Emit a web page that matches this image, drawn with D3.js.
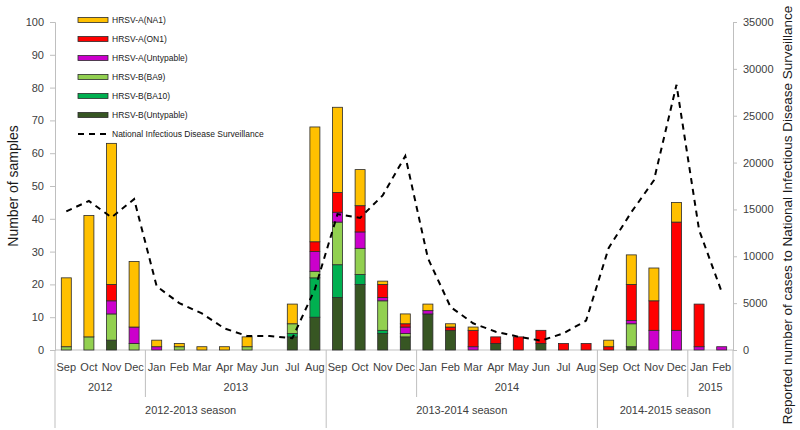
<!DOCTYPE html>
<html>
<head>
<meta charset="utf-8">
<script src="https://cdn.jsdelivr.net/npm/d3@7/dist/d3.min.js"></script>
<style>
body { margin: 0; background: #fff; }
svg { display: block; }
</style>
</head>
<body>
<svg id="chart" width="800" height="430"></svg>
<script>
const months = ["Sep","Oct","Nov","Dec","Jan","Feb","Mar","Apr","May","Jun","Jul","Aug",
                "Sep","Oct","Nov","Dec","Jan","Feb","Mar","Apr","May","Jun","Jul","Aug",
                "Sep","Oct","Nov","Dec","Jan","Feb"];
// year group labels: [label, start index, end index (exclusive)]
const yearGroups = [["2012",0,4],["2013",4,12],["",12,16],["2014",16,24],["",24,28],["2015",28,30]];
const seasonGroups = [["2012-2013 season",0,12],["2013-2014 season",12,24],["2014-2015 season",24,30]];

const seriesNames = ["HRSV-B(Untypable)","HRSV-B(BA10)","HRSV-B(BA9)","HRSV-A(Untypable)","HRSV-A(ON1)","HRSV-A(NA1)"];
const bUntypable = [0,0,3,0, 0,0,0,0,0,0,4,10, 16,20,5,4, 11,6,0,2,0,2,0,0, 0,1,0,0, 0,0];
const bBA10      = [0,0,0,0, 0,0,0,0,0,0,1,12, 10,3,1,0, 0,0,0,0,0,0,0,0, 0,0,0,0, 0,0];
const bBA9       = [1,4,8,2, 0,1,0,0,1,0,3,2, 13,8,9,1, 0,0,0,0,0,0,0,0, 0,7,0,0, 0,0];
const aUntypable = [0,0,4,5, 1,0,0,0,0,0,0,6, 3,5,1,2, 1,0,1,0,0,0,0,0, 0,1,6,6, 1,1];
const aON1       = [0,0,5,0, 0,0,0,0,0,0,0,3, 6,8,4,1, 0,1,5,2,4,4,2,2, 1,11,9,33, 13,0];
const aNA1       = [21,37,43,20, 2,1,1,1,3,0,6,35, 26,11,1,3, 2,1,1,0,0,0,0,0, 2,9,10,6, 0,0];
const surveillance = [14800,15900,14150,16100, 6800,5000,3900,2300,1500,1500,1250,6500,
                      14500,14100,16500,20700, 9800,4600,2850,1950,1420,1000,1780,3130,
                      10900,14700,18100,28300, 12800,6200];
const leftTicks = [0,10,20,30,40,50,60,70,80,90,100];
const rightTicks = [0,5000,10000,15000,20000,25000,30000,35000];

const colors = {
  "HRSV-A(NA1)": "#FFC000",
  "HRSV-A(ON1)": "#FF0000",
  "HRSV-A(Untypable)": "#CC00CC",
  "HRSV-B(BA9)": "#92D050",
  "HRSV-B(BA10)": "#00B050",
  "HRSV-B(Untypable)": "#375623"
};
const seriesData = [bUntypable,bBA10,bBA9,aUntypable,aON1,aNA1];

const svg = d3.select("#chart");
const pL = 55, pR = 733, pT = 22, pB = 350;
const idx = d3.range(months.length);
const x = d3.scaleBand().domain(idx).range([pL, pR]).paddingInner(0).paddingOuter(0);
const y = d3.scaleLinear().domain([0,100]).range([pB, pT]);
const y2 = d3.scaleLinear().domain([0,35000]).range([pB, pT]);
const axisColor = "#BFBFBF";
const labelColor = "#404040";
const tickFont = "'Liberation Sans', Arial, sans-serif";

// rows for stack
const rows = idx.map(i => {
  const r = {i};
  seriesNames.forEach((n,k) => r[n] = seriesData[k][i]);
  return r;
});
const stack = d3.stack().keys(seriesNames)(rows);

// Left axis
const yAxis = d3.axisLeft(y).tickValues(leftTicks).tickSize(5).tickPadding(6);
const gy = svg.append("g").attr("transform", `translate(${pL},0)`).call(yAxis);
gy.select(".domain").attr("stroke", axisColor);
gy.selectAll(".tick line").attr("stroke", axisColor);
gy.selectAll("text").attr("fill", labelColor).style("font", `11px ${tickFont}`);

// Right axis
const yAxis2 = d3.axisRight(y2).tickValues(rightTicks).tickSize(4).tickPadding(6).tickFormat(d3.format("d"));
const gy2 = svg.append("g").attr("transform", `translate(${pR},0)`).call(yAxis2);
gy2.select(".domain").attr("stroke", axisColor);
gy2.selectAll(".tick line").attr("stroke", axisColor);
gy2.selectAll("text").attr("fill", labelColor).style("font", `11px ${tickFont}`);

// Bottom baseline
svg.append("line").attr("x1", pL).attr("x2", pR).attr("y1", pB).attr("y2", pB)
  .attr("stroke", axisColor);

// Bars
const barW = 10;
svg.append("g").selectAll("g").data(stack).join("g")
  .attr("fill", d => colors[d.key])
  .selectAll("rect").data(d => d.filter(s => s[1] - s[0] > 0)).join("rect")
  .attr("x", d => x(d.data.i) + x.bandwidth()/2 - barW/2)
  .attr("width", barW)
  .attr("y", d => y(d[1]))
  .attr("height", d => y(d[0]) - y(d[1]))
  .attr("stroke", "#2b2b2b")
  .attr("stroke-width", 0.8);

// Surveillance line
const line = d3.line().x((d,i) => x(i) + x.bandwidth()/2).y(d => y2(d));
svg.append("path").datum(surveillance).attr("d", line)
  .attr("fill", "none").attr("stroke", "#000").attr("stroke-width", 2)
  .attr("stroke-dasharray", "6,5");

// Category labels
const gx = svg.append("g").style("font", `11px ${tickFont}`).attr("fill", labelColor);
gx.selectAll("text.m").data(idx).join("text").attr("class","m")
  .attr("x", i => x(i) + x.bandwidth()/2).attr("y", 371)
  .attr("text-anchor","middle").text(i => months[i]);

const bx = i => (i >= months.length ? pR : x(i));
gx.selectAll("text.yr").data(yearGroups).join("text").attr("class","yr")
  .attr("x", d => (bx(d[1]) + bx(d[2]))/2).attr("y", 391)
  .attr("text-anchor","middle").text(d => d[0]);
gx.selectAll("text.se").data(seasonGroups).join("text").attr("class","se")
  .attr("x", d => (bx(d[1]) + bx(d[2]))/2).attr("y", 414)
  .attr("text-anchor","middle").text(d => d[0]);

// Separators
const seasonBounds = [0].concat(seasonGroups.map(d => d[2]));
svg.append("g").selectAll("line").data(seasonBounds).join("line")
  .attr("x1", d => bx(d)).attr("x2", d => bx(d))
  .attr("y1", pB).attr("y2", 428).attr("stroke", axisColor);
const yearBounds = yearGroups.map(d => d[2]).filter(b => !seasonBounds.includes(b));
svg.append("g").selectAll("line").data(yearBounds).join("line")
  .attr("x1", d => bx(d)).attr("x2", d => bx(d))
  .attr("y1", pB).attr("y2", 397).attr("stroke", axisColor);

// Axis titles
svg.append("text").attr("transform", `translate(18,${(pT+pB)/2}) rotate(-90)`)
  .attr("text-anchor","middle").style("font", "14px 'Liberation Sans', Arial, sans-serif")
  .attr("fill", "#1a1a1a").text("Number of samples");
svg.append("text").attr("transform", `translate(792,215) rotate(-90)`)
  .attr("text-anchor","middle").style("font", "13.5px 'Liberation Sans', Arial, sans-serif")
  .attr("fill", "#1a1a1a").text("Reported number of cases to National Infectious Disease Surveillance");

// Legend
const legendItems = ["HRSV-A(NA1)","HRSV-A(ON1)","HRSV-A(Untypable)","HRSV-B(BA9)","HRSV-B(BA10)","HRSV-B(Untypable)"];
const lg = svg.append("g").style("font", `8.5px ${tickFont}`);
legendItems.forEach((n,k) => {
  const yy = 20 + k*19;
  lg.append("rect").attr("x", 78).attr("y", yy - 2.5).attr("width", 30).attr("height", 5)
    .attr("fill", colors[n]).attr("stroke", "#2b2b2b").attr("stroke-width", 0.8);
  lg.append("text").attr("x", 112).attr("y", yy + 3).attr("fill", "#1a1a1a").text(n);
});
const ly = 20 + 6*19;
lg.append("line").attr("x1", 78).attr("x2", 108).attr("y1", ly).attr("y2", ly)
  .attr("stroke", "#000").attr("stroke-width", 2).attr("stroke-dasharray", "6,5");
lg.append("text").attr("x", 112).attr("y", ly + 3).attr("fill", "#1a1a1a").text("National Infectious Disease Surveillance");
</script>
</body>
</html>
